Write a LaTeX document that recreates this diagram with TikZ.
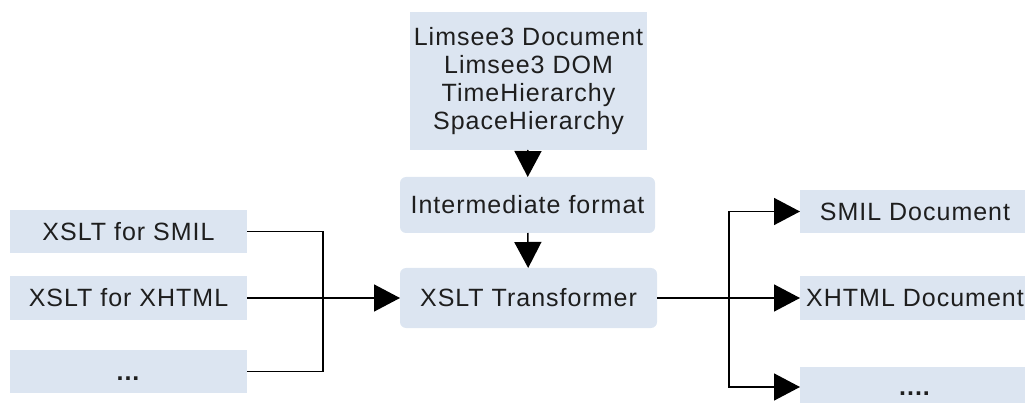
\documentclass[tikz,border=0pt]{standalone}
\usepackage{fontspec}
\setmainfont{Liberation Sans}[LetterSpace=4]
\usetikzlibrary{arrows.meta}
\definecolor{boxfill}{RGB}{220,229,241}
\definecolor{txt}{RGB}{30,30,30}
\tikzset{
  box/.style={fill=boxfill, draw=none, inner sep=0pt, outer sep=0pt, align=center,
    text=txt, font=\fontsize{25}{28}\selectfont},
  rbox/.style={box, rounded corners=6pt},
  conn/.style={line width=1.5pt, draw=black},
  arr/.style={conn, -{Triangle[length=26pt,width=27pt]}},
}
\begin{document}
\begin{tikzpicture}[x=1pt,y=-1pt]
\useasboundingbox (0,0) rectangle (1025,403);
\clip (0,0) rectangle (1025,403);
% centre column
\node[box, minimum width=237pt, minimum height=138pt] (top) at (528.5,81)
  {Limsee3 Document\\Limsee3 DOM\\TimeHierarchy\\SpaceHierarchy};
\node[rbox, minimum width=255pt, minimum height=56pt] (int) at (527.5,205) {Intermediate format};
\node[rbox, minimum width=257pt, minimum height=60pt] (trans) at (528.5,298) {XSLT Transformer};
% left column
\node[box, minimum width=237pt, minimum height=43pt] (l1) at (128.5,231.5) {XSLT for SMIL};
\node[box, minimum width=237pt, minimum height=43pt] (l2) at (128.5,298) {XSLT for XHTML};
\node[box, minimum width=237pt, minimum height=43pt] (l3) at (128.5,371.5) {\vphantom{X}\textbf{...}};
% right column
\node[box, minimum width=230pt, minimum height=43pt] (r1) at (915,211.5) {SMIL Document};
\node[box, minimum width=230pt, minimum height=43pt] (r2) at (915,298) {XHTML Document};
\node[box, minimum width=230pt, minimum height=40pt] (r3) at (915,387) {\vphantom{X}\textbf{....}};
% junctions
\coordinate (jl) at (323,298);
\coordinate (jr) at (729,298);
% connectors
\draw[arr] (top) -- (int);
\draw[arr] (int) -- (trans);
\draw[conn] (l1.east) -| (jl);
\draw[conn] (l3.east) -| (jl);
\draw[arr] (l2.east) -- (trans.west);
\draw[arr] (trans.east) -- (r2.west);
\draw[arr] (jr) |- (r1.west);
\draw[arr] (jr) |- (r3.west);
\end{tikzpicture}
\end{document}
